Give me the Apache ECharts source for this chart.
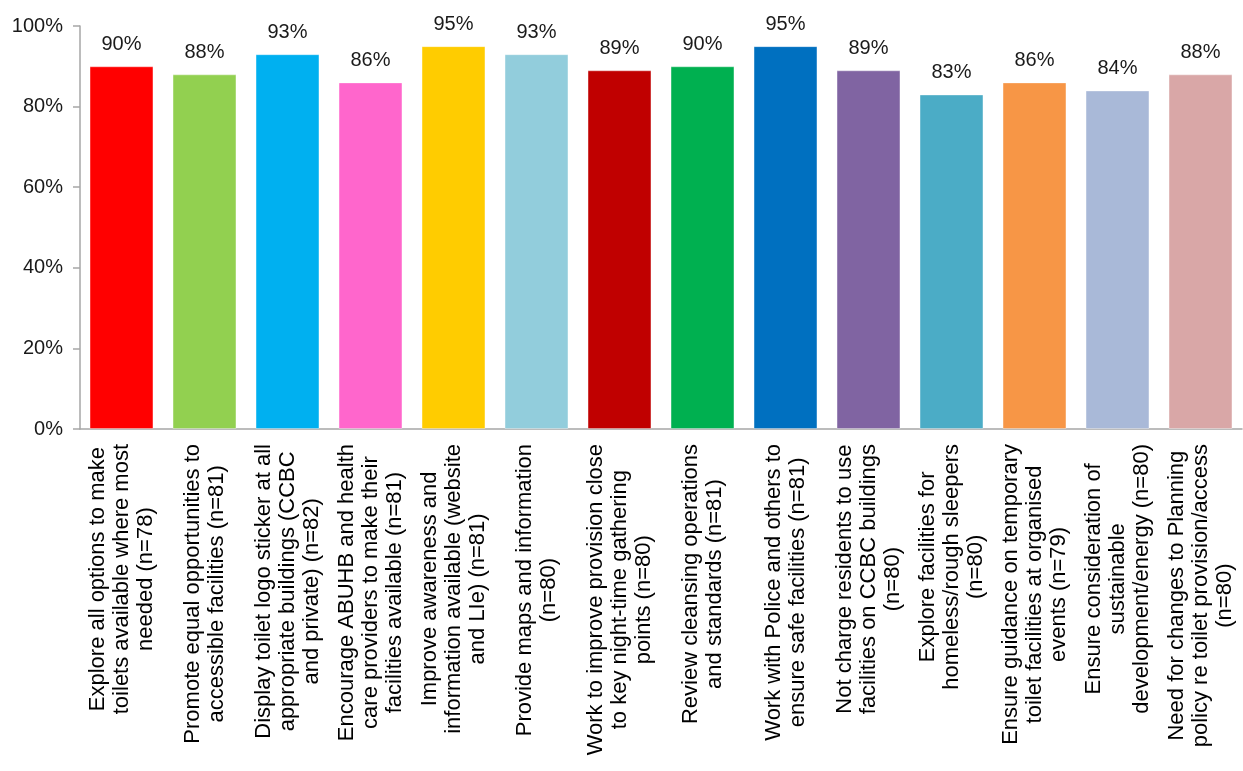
<!DOCTYPE html>
<html>
<head>
<meta charset="utf-8">
<style>
html,body{margin:0;padding:0;background:#fff;}
#chart{width:1243px;height:771px;}
</style>
<script src="https://cdn.jsdelivr.net/npm/echarts@6/dist/echarts.min.js"></script>
</head>
<body>
<div id="chart"></div>
<script>
const categories = [
  "Explore all options to make\ntoilets available where most\nneeded (n=78)",
  "Promote equal opportunities to\naccessible facilities (n=81)",
  "Display toilet logo sticker at all\nappropriate buildings (CCBC\nand private) (n=82)",
  "Encourage ABUHB and health\ncare providers to make their\nfacilities available (n=81)",
  "Improve awareness and\ninformation available (website\nand LIe) (n=81)",
  "Provide maps and information\n(n=80)",
  "Work to improve provision close\nto key night-time gathering\npoints (n=80)",
  "Review cleansing operations\nand standards (n=81)",
  "Work with Police and others to\nensure safe facilities (n=81)",
  "Not charge residents to use\nfacilities on CCBC buildings\n(n=80)",
  "Explore facilities for\nhomeless/rough sleepers\n(n=80)",
  "Ensure guidance on temporary\ntoilet facilities at organised\nevents (n=79)",
  "Ensure consideration of\nsustainable\ndevelopment/energy (n=80)",
  "Need for changes to Planning\npolicy re toilet provision/access\n(n=80)"
];
const values = [90, 88, 93, 86, 95, 93, 89, 90, 95, 89, 83, 86, 84, 88];
const colors = ["#FF0000","#92D050","#00B0F0","#FF66CC","#FFCC00","#92CDDC","#C00000","#00B050","#0070C0","#8064A2","#4BACC6","#F79646","#A9B9D8","#D9A7A7"];
const yTicks = [0, 20, 40, 60, 80, 100];

const FONT = "'Liberation Sans', Arial, sans-serif";
const chart = echarts.init(document.getElementById('chart'));
chart.setOption({
  animation: false,
  backgroundColor: '#fff',
  grid: { left: 80, right: 1, top: 26, bottom: 342, containLabel: false },
  xAxis: {
    type: 'category',
    data: categories,
    axisLine: { lineStyle: { color: '#A6A6A6', width: 1.5 } },
    axisTick: { show: false },
    axisLabel: {
      interval: 0,
      rotate: 90,
      margin: 15,
      color: '#000',
      fontFamily: FONT,
      fontSize: 22,
      lineHeight: 24,
      formatter: v => v.split('\n').map(l => '{c|' + l + '}').join('\n'),
      rich: { c: { align: 'center', fontFamily: FONT, fontSize: 22, lineHeight: 24, color: '#000' } }
    }
  },
  yAxis: {
    type: 'value',
    min: yTicks[0],
    max: yTicks[yTicks.length - 1],
    interval: 20,
    splitLine: { show: false },
    axisLine: { show: true, lineStyle: { color: '#A6A6A6', width: 1.5 } },
    axisTick: { show: true, length: 7, lineStyle: { color: '#A6A6A6', width: 1.5 } },
    axisLabel: { color: '#1a1a1a', fontFamily: FONT, fontSize: 20, margin: 17, formatter: v => v + '%' }
  },
  series: [{
    type: 'bar',
    data: values.map((v, i) => ({ value: v, itemStyle: { color: colors[i] } })),
    barCategoryGap: '23%',
    itemStyle: { borderColor: 'rgba(255,255,255,0.35)', borderWidth: 1 },
    label: {
      show: true,
      position: 'top',
      distance: 12,
      color: '#1a1a1a',
      fontFamily: FONT,
      fontSize: 20,
      formatter: p => p.value + '%'
    }
  }]
});
</script>
</body>
</html>
